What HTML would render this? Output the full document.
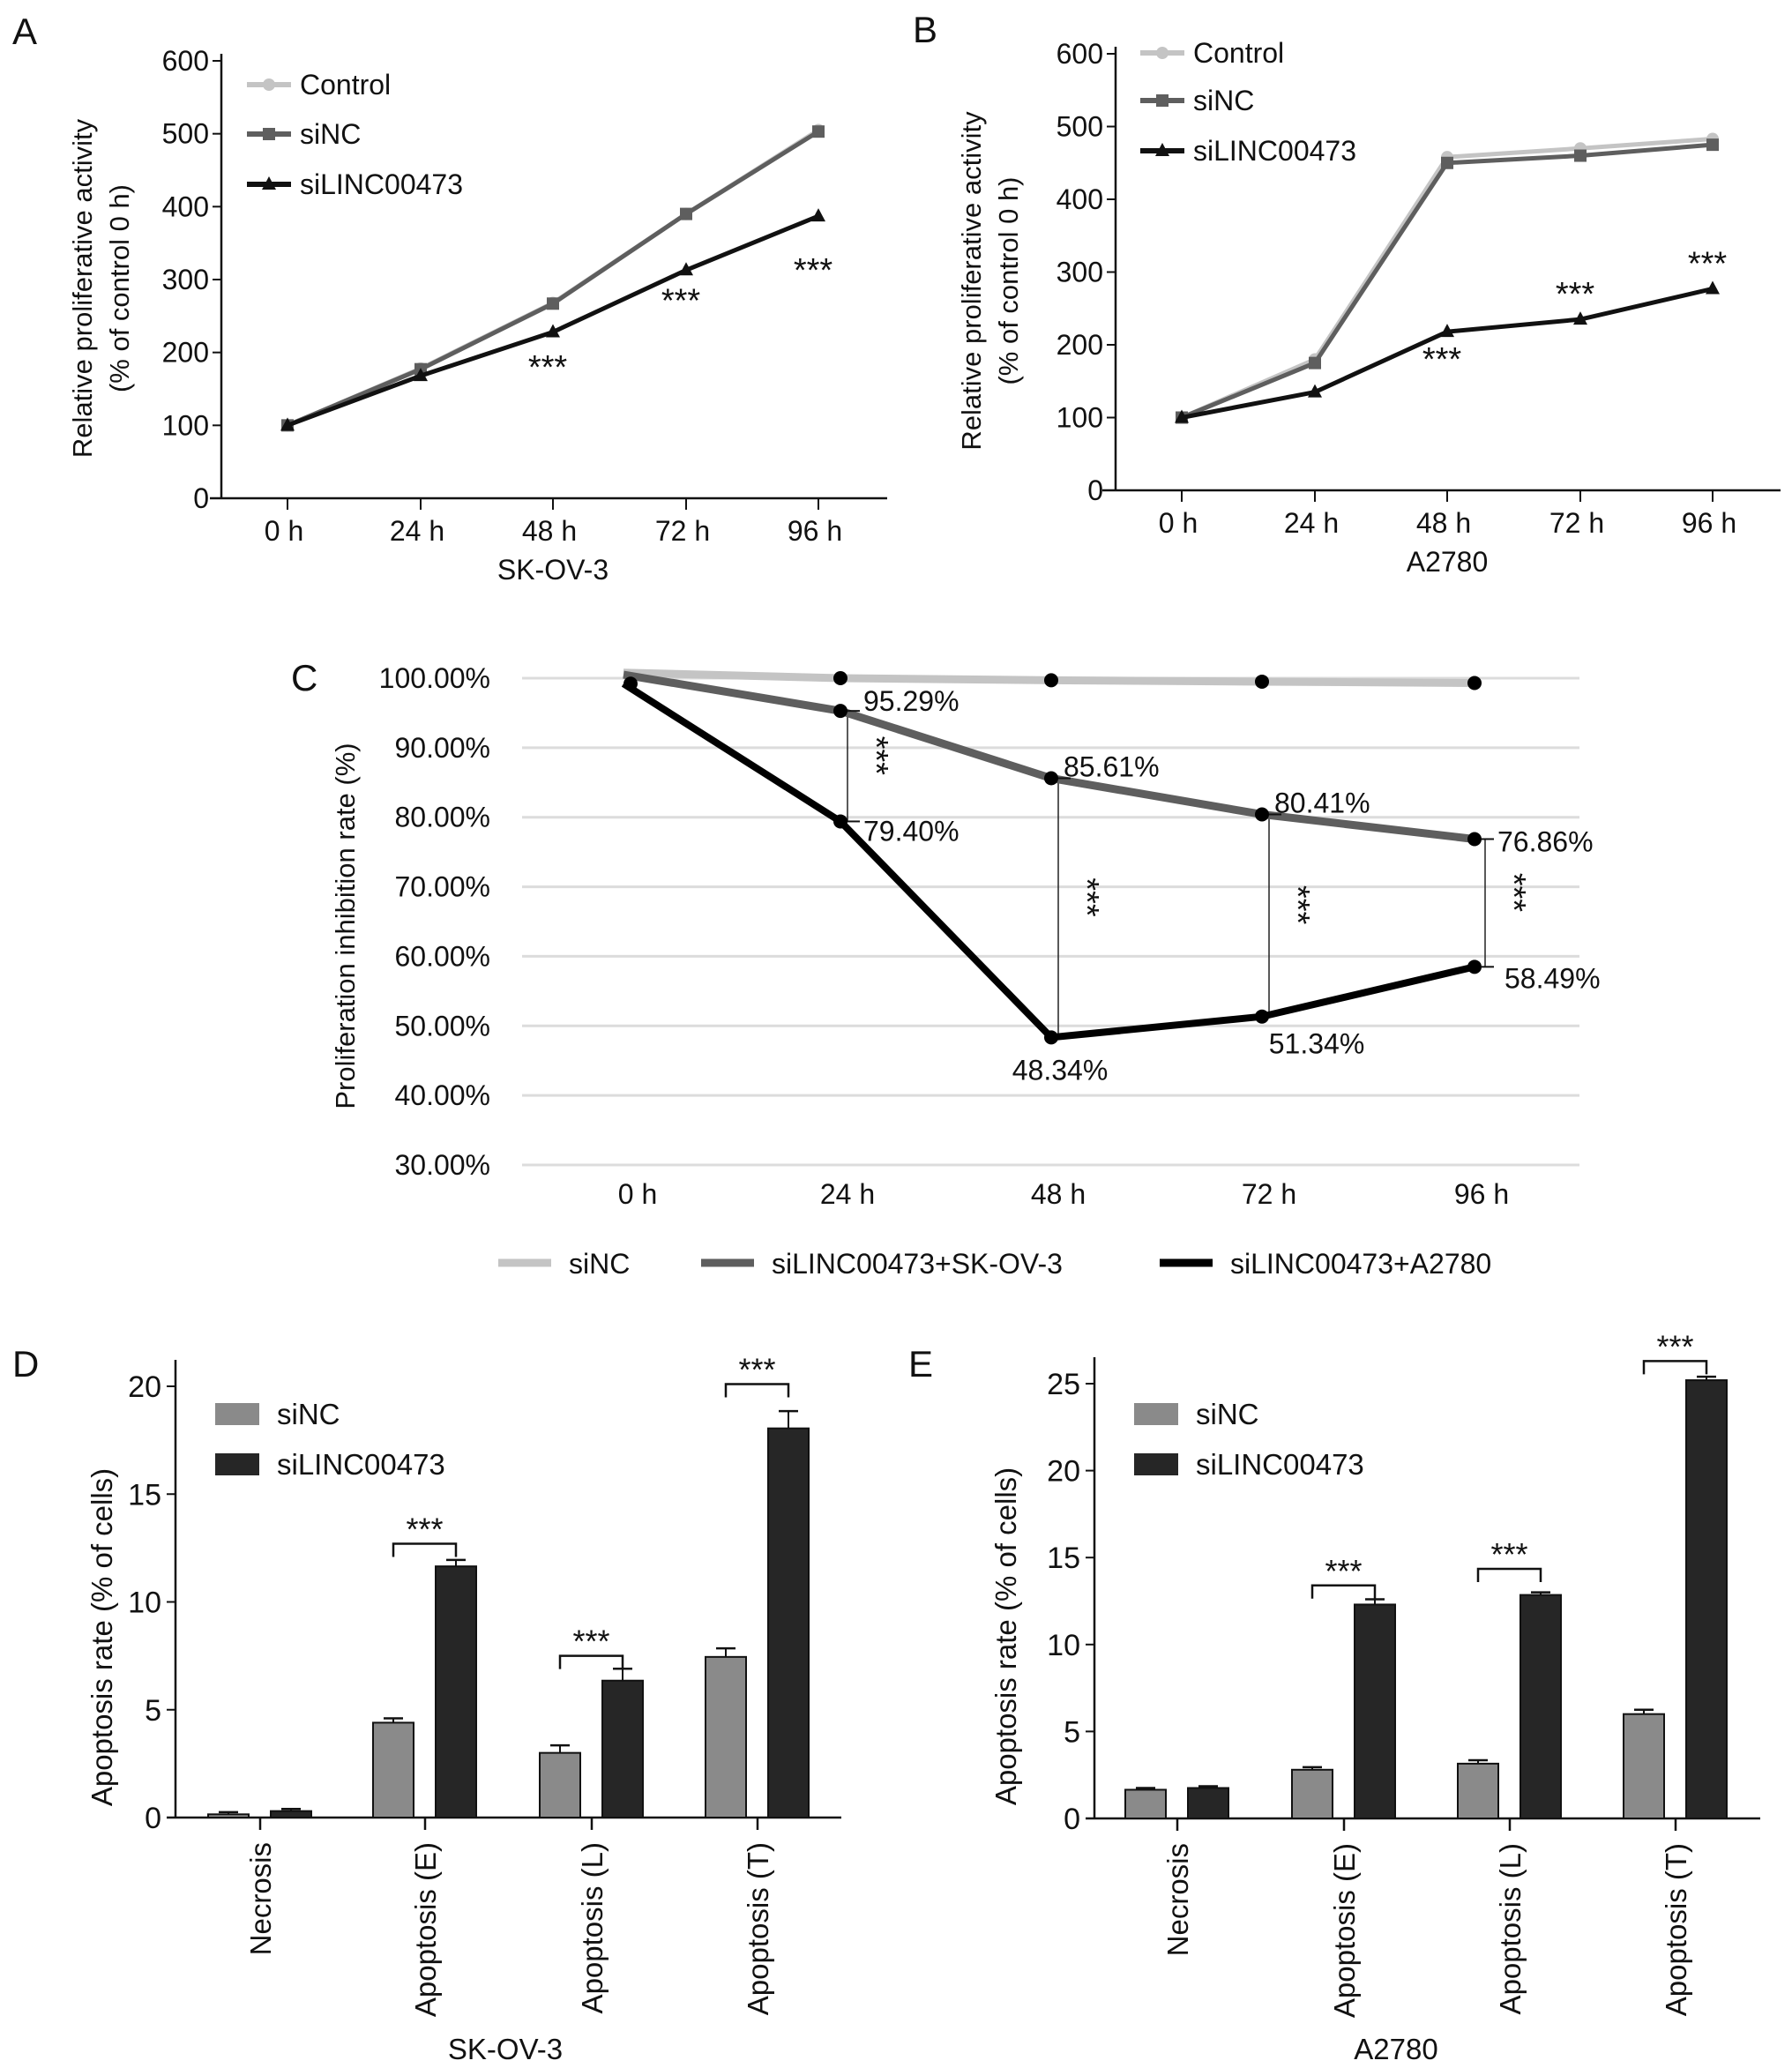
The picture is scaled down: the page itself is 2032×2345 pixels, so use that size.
<!DOCTYPE html>
<html><head><meta charset="utf-8"><style>
html,body{margin:0;padding:0;background:#fff;}
svg{display:block;}
text{font-family:"Liberation Sans Narrow","Liberation Sans",sans-serif;fill:#111;}
.sans{font-family:"Liberation Sans",sans-serif;}
</style></head><body>
<svg id="fig" width="2032" height="2345" viewBox="0 0 2032 2345" xmlns="http://www.w3.org/2000/svg"></svg>
<script>
// ---- Panel A data (SK-OV-3)
const timeLabels = ["0 h","24 h","48 h","72 h","96 h"];
const aControl = [100,178,268,390,505];
const aSiNC = [100,177,267,390,503];
const aSiLINC = [100,168,228,313,387];
const aStars = [null,null,184,275,317];
const prolTicks = [0,100,200,300,400,500,600];
// ---- Panel B data (A2780)
const bControl = [100,180,458,470,483];
const bSiNC = [100,175,450,460,475];
const bSiLINC = [100,135,218,235,277];
const bStars = [null,null,184,274,316];
// ---- Panel C data
const cSiNC = [100.8,100,99.7,99.5,99.3];
const cSK = [100.5,95.29,85.61,80.41,76.86];
const cA = [99.2,79.40,48.34,51.34,58.49];
const cTicks = [30,40,50,60,70,80,90,100];
const cSKLabels = ["","95.29%","85.61%","80.41%","76.86%"];
const cALabels = ["","79.40%","48.34%","51.34%","58.49%"];
// ---- Panel D data
const barCats = ["Necrosis","Apoptosis (E)","Apoptosis (L)","Apoptosis (T)"];
const dSiNC = [0.15,4.4,3.0,7.45];
const dSiNCErr = [0.1,0.2,0.35,0.4];
const dSiLINC = [0.3,11.65,6.35,18.05];
const dSiLINCErr = [0.1,0.3,0.55,0.8];
const dBrackets = [null,12.7,7.5,20.1];
const dTicks = [0,5,10,15,20];
// ---- Panel E data
const eSiNC = [1.65,2.8,3.15,6.0];
const eSiNCErr = [0.1,0.15,0.2,0.25];
const eSiLINC = [1.75,12.3,12.85,25.2];
const eSiLINCErr = [0.1,0.3,0.15,0.2];
const eBrackets = [null,13.4,14.35,26.3];
const eTicks = [0,5,10,15,20,25];

const NS="http://www.w3.org/2000/svg";
const svg=document.getElementById('fig');
function mk(tag,attrs,parent){const e=document.createElementNS(NS,tag);for(const k in attrs)e.setAttribute(k,attrs[k]);(parent||svg).appendChild(e);return e;}
function txt(s,x,y,size,anchor,parent,extra){const t=mk('text',Object.assign({x:x,y:y,'font-size':size,'text-anchor':anchor||'start'},extra||{}),parent);t.textContent=s;return t;}
function grp(name){const g=mk('g',{},svg);return g;}
function stars(x,y,size,parent,rot){const t=txt('***',x,y,size,'middle',parent,rot?{transform:'rotate(90 '+x+' '+y+')'}:{});return t;}

// ---------- line chart panels A & B ----------
function linePanel(o){
  const g=grp(o.name);
  const ys=v=>o.y0-(v/600)*(o.y0-o.y600);
  const xs=i=>o.xt[i];
  const lt=txt(o.letter,o.lx,o.ly,42,'start',g,{class:'sans'});
  mk('line',{x1:o.ax,y1:o.y600-8,x2:o.ax,y2:o.y0,stroke:'#111','stroke-width':2.5},g);
  mk('line',{x1:o.xl,y1:o.y0,x2:o.xr,y2:o.y0,stroke:'#111','stroke-width':2.5},g);
  prolTicks.forEach(v=>{const y=ys(v);mk('line',{x1:o.ax-10,y1:y,x2:o.ax,y2:y,stroke:'#111','stroke-width':2},g);
    const t=txt(String(v),o.ax-14,y+11,32,'end',g);});
  timeLabels.forEach((s,i)=>{mk('line',{x1:xs(i),y1:o.y0,x2:xs(i),y2:o.y0+13,stroke:'#111','stroke-width':2},g);
    const t=txt(s,xs(i)-4,o.y0+48,32,'middle',g);});
  const xt=txt(o.xtitle,(o.xt[0]+o.xt[4])/2,o.y0+92,32,'middle',g);
  const yc=(o.y0+o.y600)/2+10;
  const y1=txt('Relative proliferative activity',o.ylx,yc,31,'middle',g,{class:'sans',transform:'rotate(-90 '+o.ylx+' '+yc+')'});
  const y2=txt('(% of control 0 h)',o.ylx+42,yc,31,'middle',g,{class:'sans',transform:'rotate(-90 '+(o.ylx+42)+' '+yc+')'});
  const series=[[o.ctrl,'#c4c4c4','circle','Control'],[o.sinc,'#5e5e5e','square','siNC'],[o.silinc,'#111','tri','siLINC00473']];
  series.forEach((s,si)=>{
    const pts=s[0].map((v,i)=>xs(i)+','+ys(v)).join(' ');
    const pl=mk('polyline',{points:pts,fill:'none',stroke:s[1],'stroke-width':5},g);
    
    s[0].forEach((v,i)=>marker(s[2],xs(i),ys(v),s[1],g));
    const ly=o.legY[si];
    mk('line',{x1:o.legX,y1:ly,x2:o.legX+50,y2:ly,stroke:s[1],'stroke-width':6},g);
    marker(s[2],o.legX+25,ly,s[1],g);
    const lt2=txt(s[3],o.legX+60,ly+11,32,'start',g);
  });
  o.stars.forEach((v,i)=>{if(v!==null)stars(xs(i)-6,ys(v)+16,38,g);});
}
function marker(type,x,y,c,g){
  let m;
  if(type==='circle')m=mk('circle',{cx:x,cy:y,r:7,fill:c},g);
  else if(type==='square')m=mk('rect',{x:x-7,y:y-7,width:14,height:14,fill:c},g);
  else m=mk('polygon',{points:(x)+','+(y-9)+' '+(x-8)+','+(y+6)+' '+(x+8)+','+(y+6),fill:c},g);
  
}
linePanel({name:'panel-a-sk-ov-3',letter:'A',lx:14,ly:50,ax:251,y0:565,y600:69,xl:238,xr:1006,xt:[326,477,627,778,928],xtitle:'SK-OV-3',ylx:104,legX:280,legY:[96,152,209],ctrl:aControl,sinc:aSiNC,silinc:aSiLINC,stars:aStars});
linePanel({name:'panel-b-a2780',letter:'B',lx:1035,ly:48,ax:1265,y0:556,y600:61,xl:1250,xr:2019,xt:[1340,1491,1641,1792,1942],xtitle:'A2780',ylx:1112,legX:1293,legY:[60,114,171],ctrl:bControl,sinc:bSiNC,silinc:bSiLINC,stars:bStars});

// ---------- Panel C ----------
(function(){
  const g=grp('panel-c-inhibition');
  const y100=769,y30=1321;
  const ys=v=>y30-(v-30)/70*(y30-y100);
  const xp=[715,953,1192,1431,1672];
  const lt=txt('C',330,783,42,'start',g,{class:'sans'});
  cTicks.forEach(v=>{const y=ys(v);const l=mk('line',{x1:592,y1:y,x2:1791,y2:y,stroke:'#dcdcdc','stroke-width':3},g);
    const t=txt(v.toFixed(2)+'%',556,y+11,32,'end',g);});
  timeLabels.forEach((s,i)=>{const t=txt(s,xp[i]+8,1365,32,'middle',g);});
  const yt=txt('Proliferation inhibition rate (%)',402,1050,31,'middle',g,{class:'sans',transform:'rotate(-90 402 1050)'});
  [1,2,3,4].forEach(i=>{const x=xp[i]+(i===4?12:8);
    const l=mk('line',{x1:x,y1:ys(cSK[i]),x2:x,y2:ys(cA[i]),stroke:'#222','stroke-width':1.5},g);
    stars(x+20,(ys(cSK[i])+ys(cA[i]))/2-12,38,g,true);});
  const series=[[cSiNC,'#c4c4c4',9,'sinc'],[cSK,'#5e5e5e',9,'sk-ov-3'],[cA,'#000',8,'a2780']];
  series.forEach(s=>{
    const pts=s[0].map((v,i)=>(i===0?xp[i]-8:xp[i])+','+ys(v)).join(' ');
    const pl=mk('polyline',{points:pts,fill:'none',stroke:s[1],'stroke-width':s[2]},g);
    
  });
  series.forEach(s=>{s[0].forEach((v,i)=>{if(i===0&&s[3]!=='a2780')return;const c=mk('circle',{cx:xp[i],cy:ys(v),r:8,fill:'#000'},g);});});
  cSKLabels.forEach((s,i)=>{if(!s)return;const y=ys(cSK[i]);
    mk('line',{x1:xp[i]+8,y1:y,x2:xp[i]+22,y2:y,stroke:'#111','stroke-width':2},g);
    const dx=i===4?26:(i===1?26:14);
    const t=txt(s,xp[i]+dx,y+(i===4?14:(i===1?0:-2)),32,'start',g,{class:'sans'});});
  cALabels.forEach((s,i)=>{if(!s)return;const y=ys(cA[i]);
    if(i===1||i===4)mk('line',{x1:xp[i]+8,y1:y,x2:xp[i]+22,y2:y,stroke:'#111','stroke-width':2},g);
    let x=xp[i]+26,yy=y+22,a='start';
    if(i===2){x=xp[i]+10;yy=y+48;a='middle';}
    if(i===3){x=xp[i]+62;yy=y+42;a='middle';}
    if(i===4){x=xp[i]+34;yy=y+24;}
    const t=txt(s,x,yy,32,a,g,{class:'sans'});});
  const leg=[['siNC','#c4c4c4',565],['siLINC00473+SK-OV-3','#5e5e5e',795],['siLINC00473+A2780','#000',1315]];
  leg.forEach(l=>{mk('line',{x1:l[2],y1:1432,x2:l[2]+60,y2:1432,stroke:l[1],'stroke-width':9},g);
    const t=txt(l[0],l[2]+80,1444,32,'start',g);});
})();

// ---------- bar panels D & E ----------
function barPanel(o){
  const g=grp(o.name);
  const ys=v=>o.y0-v/o.max*(o.y0-o.ymax);
  const lt=txt(o.letter,o.lx,1561,42,'start',g,{class:'sans'});
  mk('line',{x1:o.ax,y1:o.ymax-30,x2:o.ax,y2:o.y0,stroke:'#111','stroke-width':2.5},g);
  mk('line',{x1:o.xl,y1:o.y0,x2:o.xr,y2:o.y0,stroke:'#111','stroke-width':2.5},g);
  o.ticks.forEach(v=>{const y=ys(v);mk('line',{x1:o.ax-10,y1:y,x2:o.ax,y2:y,stroke:'#111','stroke-width':2},g);
    const t=txt(String(v),o.ax-16,y+12,34,'end',g);});
  barCats.forEach((c,i)=>{const x=o.xt[i];
    mk('line',{x1:x,y1:o.y0,x2:x,y2:o.y0+14,stroke:'#111','stroke-width':2.5},g);
    const t=txt(c,x+12,o.y0+28,33,'end',g,{class:'sans',transform:'rotate(-90 '+(x+12)+' '+(o.y0+28)+')'});
    [[o.a,o.ae,'#8a8a8a',-36,'sinc'],[o.b,o.be,'#262626',35,'silinc00473']].forEach(s=>{
      const cx=x+s[3],v=s[0][i],e=s[1][i];
      mk('line',{x1:cx,y1:ys(v),x2:cx,y2:ys(v+e),stroke:'#111','stroke-width':2},g);
      mk('line',{x1:cx-11,y1:ys(v+e),x2:cx+11,y2:ys(v+e),stroke:'#111','stroke-width':2.5},g);
      const r=mk('rect',{x:cx-23,y:ys(v),width:46,height:o.y0-ys(v),fill:s[2],stroke:'#111','stroke-width':2},g);
      
    });
    const bv=o.br[i];
    if(bv!==null){const y=ys(bv),x1=x-36,x2=x+35;
      const br=mk('path',{d:'M'+x1+' '+(y+15)+'V'+y+'H'+x2+'V'+(y+15),fill:'none',stroke:'#111','stroke-width':2.5},g);
      
      stars((x1+x2)/2,y-4,36,g);}
  });
  const yc=(o.y0+o.ymax)/2+40;
  const yt=txt('Apoptosis rate (% of cells)',o.ylx,yc,33,'middle',g,{class:'sans',transform:'rotate(-90 '+o.ylx+' '+yc+')'});
  const xt=txt(o.xtitle,o.xtx,2335,33,'middle',g);
  [['siNC','#8a8a8a',1603],['siLINC00473','#262626',1660]].forEach(l=>{
    mk('rect',{x:o.legX,y:l[2]-12,width:50,height:25,fill:l[1]},g);
    const t=txt(l[0],o.legX+70,l[2]+12,33,'start',g);});
}
barPanel({name:'panel-d-sk-ov-3',letter:'D',lx:14,ax:199,y0:2061,ymax:1572,max:20,xl:189,xr:954,xt:[295,482,671,859],a:dSiNC,ae:dSiNCErr,b:dSiLINC,be:dSiLINCErr,br:dBrackets,ticks:dTicks,ylx:127,xtitle:'SK-OV-3',xtx:573,legX:244});
barPanel({name:'panel-e-a2780',letter:'E',lx:1030,ax:1241,y0:2062,ymax:1569,max:25,xl:1231,xr:1996,xt:[1335,1524,1712,1900],a:eSiNC,ae:eSiNCErr,b:eSiLINC,be:eSiLINCErr,br:eBrackets,ticks:eTicks,ylx:1152,xtitle:'A2780',xtx:1583,legX:1286});
</script>
</body></html>
